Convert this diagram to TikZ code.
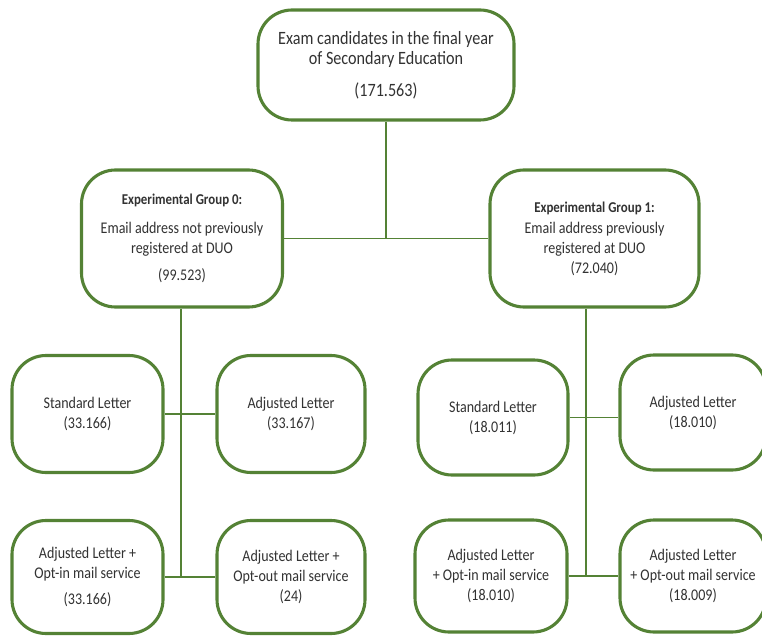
\documentclass[tikz,border=0pt]{standalone}
\usepackage{fontspec}
\setmainfont{Carlito}[FakeStretch=0.86]
\definecolor{boxgreen}{RGB}{84,130,53}
\definecolor{txt}{RGB}{50,50,50}
\begin{document}
\begin{tikzpicture}[x=1pt,y=-1pt,
  box/.style={draw=boxgreen, line width=3.1pt, rounded corners=34pt, fill=white,
    align=center, inner sep=0pt, text=txt, font=\fontsize{16.3}{20}\selectfont},
  link/.style={draw=boxgreen, line width=1.7pt}]
\useasboundingbox (0,0) rectangle (762,636);
\clip (0,0) rectangle (762,636);
% junction coordinates
\coordinate (j0) at (386,238);
\coordinate (b0) at (181,578);
\coordinate (b1) at (586,575);
% boxes
\node[box, minimum width=256pt, minimum height=110pt, font=\fontsize{18.8}{20.5}\selectfont] (top) at (386,65)
  {Exam candidates in the final year\\of Secondary Education\\[11pt](171.563)};
\node[box, minimum width=201pt, minimum height=137pt] (g0) at (182,238.5)
  {{\fontsize{15}{20}\selectfont\bfseries Experimental Group 0:}\\[9pt]Email address not previously\\registered at DUO\\[7pt](99.523)};
\node[box, minimum width=209pt, minimum height=137pt] (g1) at (594.5,238.5)
  {{\fontsize{15}{20}\selectfont\bfseries Experimental Group 1:}\\[1pt]Email address previously\\registered at DUO\\(72.040)};
\node[box, minimum width=151pt, minimum height=117pt] (std0) at (87.5,414) {Standard Letter\\(33.166)};
\node[box, minimum width=148pt, minimum height=117pt] (adj0) at (291,414) {Adjusted Letter\\(33.167)};
\node[box, minimum width=151pt, minimum height=113pt] (opin0) at (87.5,577) {Adjusted Letter +\\Opt-in mail service\\[6pt](33.166)};
\node[box, minimum width=148pt, minimum height=113pt] (opout0) at (291,577) {Adjusted Letter +\\Opt-out mail service\\(24)};
\node[box, minimum width=150pt, minimum height=115pt] (std1) at (493,417.5) {Standard Letter\\(18.011)};
\node[box, minimum width=146pt, minimum height=115pt] (adj1) at (693,412.5) {Adjusted Letter\\(18.010)};
\node[box, minimum width=152pt, minimum height=112pt] (opin1) at (491,576) {Adjusted Letter\\+ Opt-in mail service\\(18.010)};
\node[box, minimum width=146pt, minimum height=112pt] (opout1) at (693,576) {Adjusted Letter\\+ Opt-out mail service\\(18.009)};
% connectors
\draw[link] (top.south) -- (j0);
\draw[link] (g0.east) -- (g1.west);
\draw[link] (g0.south -| b0) -- (b0);
\draw[link] (std0.east) -- (adj0.west);
\draw[link] (opin0.east) -- (opout0.west);
\draw[link] (g1.south -| b1) -- (b1);
\draw[link] (std1.east) -- (std1.east -| adj1.west);
\draw[link] (opin1.east) -- (opout1.west);
\end{tikzpicture}
\end{document}
